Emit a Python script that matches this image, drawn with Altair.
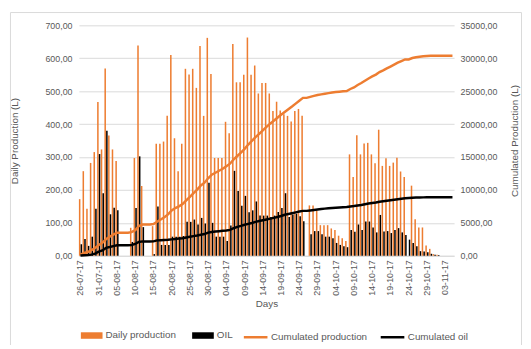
import altair as alt
import pandas as pd
from datetime import date, timedelta

start = date(2017, 7, 26)
n_days = 103
days = [(start + timedelta(days=i)).strftime("%d-%m-%y") for i in range(n_days)]
tick_days = days[0:101:5]

N = None
daily_production = [
    172, 257, 143, 282, 315, 467, 323, 569, 365, 323,   # d0-9
    288, N, N, N, 85, 297, 639, 212, N, N,               # d10-19
    90, 340, 340, 347, 425, 610, 357, 257, 340, 568,     # d20-29
    551, 568, 510, 637, 425, 662, 552, 297, 297, 297,    # d30-39
    407, 372, 643, 527, 527, 550, 663, 550, 578, 493,    # d40-49
    525, 525, 493, 440, 468, 441, 430, 425, 408, 440,    # d50-59
    446, 425, N, 153, 153, 137, 93, 93, 93, 83,          # d60-69
    78, 61, 53, 45, 308, 239, 366, 308, 341, 343,        # d70-79
    308, 281, 383, 273, 296, 273, 283, 298, 256, 239,    # d80-89
    N, 213, 111, 86, 86, 31, 21, 5, 3, N,                # d90-99
    N, N, N,                                             # d100-102
]
oil = [
    35, 51, 30, 58, 143, 309, 190, 380, 126, 146,
    138, N, N, N, 42, 145, 302, 87, N, N,
    5, 150, 33, 33, 33, 58, 58, 58, 60, 103,
    103, 110, 95, 115, 98, 222, 100, 58, 58, 58,
    45, 92, 258, 197, 152, 182, 132, 138, 165, 122,
    122, 122, 118, 122, 133, 145, 190, 118, 125, 128,
    120, 105, N, 65, 75, 75, 65, 58, 58, 53,
    39, 33, 29, 26, 78, 73, 95, 78, 104, 104,
    86, 71, 124, 74, 75, 69, 78, 84, 71, 63,
    49, 39, 29, 14, 13, 11, 6, 3, 2, N,
    N, N, N,
]

bar_series = ["Daily production", "OIL"]
line_series = ["Cumulated production", "Cumulated oil"]
ORANGE = "#ED7D31"
BLACK = "#000000"
GRAY_TXT = "#595959"
FONT = "Liberation Sans"

df = pd.DataFrame({"idx": list(range(n_days)), "day": days,
                   "Daily production": daily_production, "OIL": oil})

fmt = "replace(format(datum.value, '.2f'), '.', ',')"

x_enc = alt.X("day:O", sort=days,
              scale=alt.Scale(domain=days, paddingInner=0.12, paddingOuter=0),
              axis=alt.Axis(values=tick_days, labelAngle=270, title="Days",
                            labelFontSize=9, labelColor=GRAY_TXT, labelPadding=4,
                            titleFontSize=10, titleColor=GRAY_TXT, titleFontWeight="normal",
                            titlePadding=4, ticks=False, domain=True,
                            domainColor="#d9d9d9", grid=False, labelFont=FONT,
                            titleFont=FONT))

bars = alt.Chart(df).transform_fold(
    bar_series, as_=["series", "value"]
).transform_filter("datum.value != null").mark_bar().encode(
    x=x_enc,
    xOffset=alt.XOffset("series:N", sort=bar_series,
                        scale=alt.Scale(domain=bar_series, paddingInner=0.1)),
    y=alt.Y("value:Q", scale=alt.Scale(domain=[0, 700]),
            axis=alt.Axis(values=list(range(0, 701, 100)), labelExpr=fmt,
                          title="Daily Production (L)", grid=True, gridColor="#d9d9d9",
                          domain=False, ticks=False, labelFontSize=9, labelColor=GRAY_TXT,
                          labelPadding=7, titleFontSize=10, titleColor=GRAY_TXT,
                          titleFontWeight="normal", titlePadding=26, labelFont=FONT,
                          titleFont=FONT)),
    color=alt.Color("series:N",
                    scale=alt.Scale(domain=bar_series, range=[ORANGE, BLACK]),
                    legend=alt.Legend(title=None, orient="none", legendX=2, legendY=304,
                                      direction="horizontal",
                                      symbolType="M-1,-0.3H1V0.3H-1Z", symbolSize=484,
                                      symbolStrokeWidth=0, labelFontSize=10,
                                      labelColor=GRAY_TXT, labelFont=FONT,
                                      columnPadding=16, labelOffset=3)),
)

lines = alt.Chart(df).transform_window(
    cum_prod="sum(Daily production)", cum_oil="sum(OIL)",
    sort=[alt.SortField("idx")], frame=[None, 0]
).transform_calculate(
    **{"Cumulated production": "datum.cum_prod", "Cumulated oil": "datum.cum_oil"}
).transform_fold(
    line_series, as_=["series2", "cum"]
).mark_line(strokeWidth=2.5).encode(
    x=x_enc,
    y=alt.Y("cum:Q", scale=alt.Scale(domain=[0, 35000]),
            axis=alt.Axis(orient="right", values=list(range(0, 35001, 5000)),
                          labelExpr=fmt, title="Cumulated Production (L)", grid=False,
                          domain=False, ticks=False, labelFontSize=9, labelColor=GRAY_TXT,
                          labelPadding=6, titleFontSize=10, titleColor=GRAY_TXT,
                          titleFontWeight="normal", titlePadding=13, titleAngle=270,
                          titleBaseline="top", labelFont=FONT, titleFont=FONT)),
    stroke=alt.Stroke("series2:N", sort=line_series,
                      scale=alt.Scale(domain=line_series, range=[ORANGE, BLACK]),
                      legend=alt.Legend(title=None, orient="none", legendX=166, legendY=303,
                                        direction="horizontal", symbolType="stroke",
                                        symbolSize=576, symbolStrokeWidth=2.5,
                                        labelFontSize=10, labelColor=GRAY_TXT,
                                        labelFont=FONT, columnPadding=8, labelOffset=2)),
    detail="series2:N",
)

# light chart-area border (decorative frame, as in the Excel original)
frame = alt.Chart(pd.DataFrame({"f": [0]})).mark_rect(
    fill=None, stroke="#d9d9d9", strokeWidth=1
).encode(
    x=alt.value(-69.5), x2=alt.value(449.5), y=alt.value(-13), y2=alt.value(340)
)

chart = alt.layer(frame, bars, lines).resolve_scale(
    y="independent", color="independent", stroke="independent"
).properties(
    width=381, height=234,
    autosize=alt.AutoSizeParams(type="none"),
    padding={"left": 72, "top": 15, "right": 70, "bottom": 88},
    background="white",
).configure_view(stroke=None)

chart.save("out.html", embed_options={"renderer": "svg", "actions": False})
